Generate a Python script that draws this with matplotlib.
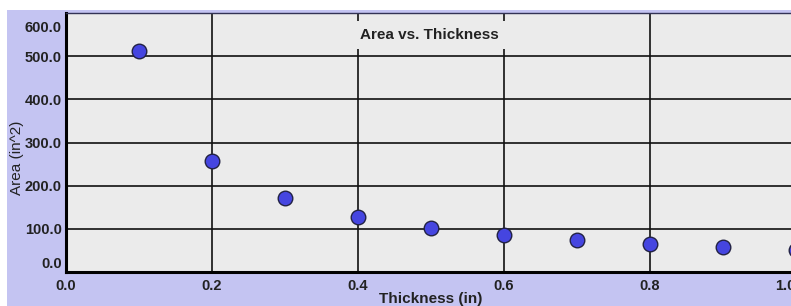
import matplotlib.pyplot as plt
import matplotlib.transforms as mtransforms
from matplotlib.patches import Rectangle

# data
thickness = [0.1, 0.2, 0.3, 0.4, 0.5, 0.6, 0.7, 0.8, 0.9, 1.0]
area = [512, 256, 171, 128, 102, 85, 73, 64, 57, 51]
x_ticks = [0.0, 0.2, 0.4, 0.6, 0.8, 1.0]
y_ticks = [0, 100, 200, 300, 400, 500, 600]

plt.rcParams['font.family'] = ['Liberation Sans', 'DejaVu Sans']

W, H = 791, 306
fig = plt.figure(figsize=(W / 100, H / 100), dpi=100)
fig.patch.set_facecolor('white')
# lavender panel behind the chart
fig.patches.append(Rectangle((7 / W, 0), 1, (H - 10) / H, transform=fig.transFigure,
                             facecolor='#c4c4f2', edgecolor='none', zorder=-5))

ax = fig.add_axes([66 / W, (H - 272) / H, (796 - 66) / W, (272 - 13) / H])
ax.set_zorder(1)
ax.set_facecolor('#ebebeb')

ax.scatter(thickness, area, s=110, color='#4545e0', edgecolors='#222244',
           linewidths=1.0, zorder=3, clip_on=False)

ax.set_xlim(0, 1.0)
ax.set_ylim(0, 600)
ax.set_xticks(x_ticks)
ax.set_yticks(y_ticks)
ax.set_xticklabels(['%.1f' % v for v in x_ticks])
ax.set_yticklabels(['%.1f' % v for v in y_ticks])
ax.tick_params(length=0, labelsize=10.5, colors='#222222')
ax.tick_params(axis='x', pad=5)
ax.tick_params(axis='y', pad=3)
for lab in ax.get_xticklabels() + ax.get_yticklabels():
    lab.set_fontweight('bold')

# end labels are pushed back inside the plot range
ylabs = ax.get_yticklabels()
ylabs[0].set_transform(ylabs[0].get_transform() +
                       mtransforms.ScaledTranslation(0, 10 / 100, fig.dpi_scale_trans))
ylabs[-1].set_transform(ylabs[-1].get_transform() +
                        mtransforms.ScaledTranslation(0, -13 / 100, fig.dpi_scale_trans))
xlabs = ax.get_xticklabels()
xlabs[-1].set_transform(xlabs[-1].get_transform() +
                        mtransforms.ScaledTranslation(-11 / 100, 0, fig.dpi_scale_trans))

ax.grid(True, color='#111111', linewidth=1.2)
ax.set_axisbelow(True)

for side in ['left', 'bottom']:
    ax.spines[side].set_linewidth(2.2)
    ax.spines[side].set_color('black')
ax.spines['top'].set_linewidth(1.0)
ax.spines['top'].set_color('#333355')

ax.text((360 - 66) / (796 - 66), 1 - (35 - 13) / (272 - 13), 'Area vs. Thickness',
        transform=ax.transAxes, ha='left', va='center', fontsize=11,
        fontweight='bold', color='#222222',
        bbox=dict(facecolor='#ebebeb', edgecolor='none', pad=5), zorder=4)

ax.set_xlabel('Thickness (in)', fontsize=11, fontweight='bold', color='#222222')
ax.xaxis.set_label_coords((431 - 66) / (796 - 66), -(292 - 272) / (272 - 13))
ax.set_ylabel('Area (in^2)', fontsize=11, color='#222222')
ax.yaxis.set_label_coords(-(66 - 24) / (796 - 66), (272 - 158) / (272 - 13))

fig.savefig('out.png', dpi=100)
